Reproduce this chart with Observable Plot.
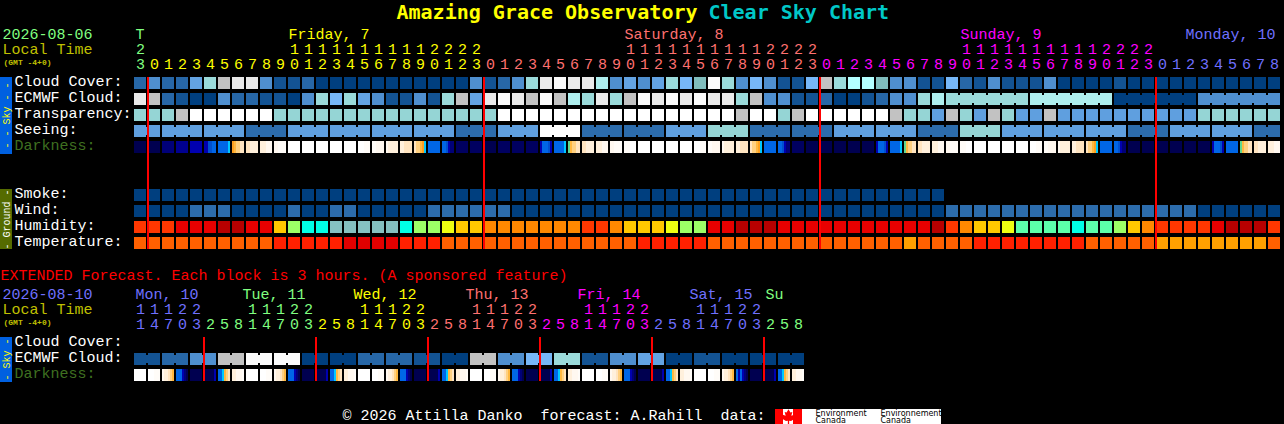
<!DOCTYPE html>
<html><head><meta charset="utf-8">
<script src="https://cdn.jsdelivr.net/npm/d3@7"></script>
<script src="https://cdn.jsdelivr.net/npm/@observablehq/plot@0.6"></script>
<style>html,body{margin:0;padding:0;background:#000;overflow:hidden}svg{display:block}</style>
</head><body><div id="chart"></div>
<script>
// ---------- palettes ----------
const cloudPalette = ["#003F7F","#135393","#2767A7","#4F8FCF","#63A3E3","#77B7F7","#9ADADA","#AEEEEE","#C2C2C2","#EAEAEA","#FBFBFB","#80BDBD","#B4FFFF"];
const transPalette = ["#003F7F","#2C6CAC","#5F9FDF","#95D5D5","#C2C2C2","#FFFFFF"];
const humidityPalette = {R:"#FF3700",e:"#E80000",d:"#B80000",a:"#FFC800",g:"#9CFF66",c:"#00FFE6",t:"#85C1C1",o:"#FF8800",y:"#EEFF11",m:"#5CFFAA"};
const tempPalette = {o:"#FF6000",r:"#FF2000",d:"#E00000",a:"#FFA000"};
const darkPalette = {n:"#000050",N:"#000060",m:"#000078",l:"#000090",k:"#0000B0",b:"#0050D0",B:"#0066E6",c:"#00C8FF",g:"#60D890",o:"#FFA020",O:"#FFB840",y:"#FFD080",p:"#FFE4C0",q:"#FFF0DC",r:"#FFF8F0",s:"#FFFCF8",w:"#FFFFFF"};

// ---------- hourly forecast ----------
const cloudCover = [2,3,2,2,4,6,8,9,9,3,1,1,2,0,0,0,0,0,0,0,0,0,0,0,3,1,2,3,6,9,10,9,9,7,3,4,3,4,6,5,11,10,6,3,5,3,1,1,5,8,6,12,12,11,3,3,1,1,5,2,1,3,1,1,1,3,0,0,0,0,1,0,0,0,0,0,0,0,0,0,0,0];
const ecmwfCloud = [9,8,2,1,0,0,3,2,2,1,1,0,3,6,5,6,4,3,1,1,3,1,6,8,4,9,10,9,8,10,8,7,6,9,6,8,10,9,10,9,10,9,9,6,8,3,3,1,1,2,0,0,1,2,3,3,6,7,6,6,6,6,6,6,7,7,7,7,7,7,0,0,0,0,0,0,3,3,3,3,3,3];
const ecmwfLinkedFrom = 58, ecmwfBlockSize = 6;
const transparency = [3,3,3,4,5,5,5,5,5,5,3,3,3,3,3,3,3,3,3,3,3,3,3,3,3,3,5,5,5,5,5,5,5,5,5,5,5,5,5,5,5,5,5,4,5,5,3,4,5,5,5,5,5,5,4,3,3,2,4,3,2,4,3,2,2,4,2,2,2,2,2,2,2,2,2,2,3,3,3,3,3,3];
const seeingValues = [2,2,2,1,2,2,2,2,1,2,5,1,1,2,3,1,1,2,2,1,3,2,2,2,1,2,2,1];
const seeingSpans  = [2,3,3,3,3,3,3,3,3,3,3,3,3,3,3,3,3,3,3,3,3,3,3,3,3,3,3,2];
const darkness = ["nnnnnn","nnnnnn","mmmmmm","llllll","kkkkkk","kkbbBB","BBBBBc","oOyypp","ppqqqq","qqqrrr","rrssss","wwwwww","wwwwww","wwwwww","wwwwww","wwwwww","wwwsss","ssrrrr","rqqqqq","qqpppp","pyyOoc","BBBBBB","BBbkmm","NNNNNN","NNNNNN","nnnnnn","NNNNNN","NNNNNN",
"NNNNNN","kBBBbk","BBBBBc","gOyypp","ppqqqq","qqqrrr","rrssss","ssswww","wwwwww","wwwwww","wwwwww","wwwwww","wwwsss","ssrrrr","rqqqqq","qqpppp","pyyOoc","BBBBBB","BBbkmm","NNNNNN","nnnnnn","nnnnnn","nnnnnn","nnnnnn",
"nnnnnn","kBBBbk","BBBBBc","gOyypp","ppqqqq","qqqrrr","rrssss","ssswww","wwwwww","wwwwww","wwwwww","wwwwww","wwwsss","ssrrrr","rqqqqq","qqpppp","pyyOoc","BBBBBB","BBbkmm","nnnnnn","nnnnnn","nnnnnn","nnnnnn","nnnnnn","nnnnnn",
"kBBBbk","BBBBBB","gOyypp","ppqqqq","qqqrrr"];
const smokeCount = 58;
const wind = [0,0,0,0,1,1,1,0,0,0,0,1,0,0,1,1,0,0,0,0,0,1,1,1,1,1,1,0,0,0,0,0,0,0,0,0,0,0,0,0,0,0,0,0,0,0,0,0,0,0,0,0,0,0,0,0,0,0,1,1,1,1,1,1,1,1,1,1,1,1,1,1,1,1,1,1,0,0,0,0,0,0];
const humidity = ["R","R","R","e","e","e","d","d","e","e","a","g","c","c","t","t","t","t","t","c","g","g","y","a","a","o","o","o","o","o","o","o","R","R","o","a","a","a","y","g","g","e","e","d","d","d","e","e","e","e","e","e","e","e","e","e","e","d","R","o","a","a","y","m","m","m","m","c","m","m","g","a","o","R","R","R","R","e","d","d","d","R"];
const temperature = ["o","o","o","o","o","o","o","o","o","o","r","r","r","r","r","d","d","d","d","r","r","r","o","o","o","o","o","o","o","o","o","o","o","o","o","o","r","r","r","r","r","o","o","o","o","o","o","o","o","o","o","o","o","o","o","a","o","o","o","o","r","r","r","r","r","r","r","r","o","o","o","o","o","a","a","a","a","a","a","a","a","o"];

// ---------- three hour forecast ----------
const extEcmwfBlocks = [1,2,3,8,10,10,0,0,2,2,1,0,8,3,5,6,1,3,4,0,1,0,0,0];
const extDarkness = ["wwwwww","wwwsss","rqqpyO","BBBkmn","nnnnnn","nnnnnk","BBcOyp","qqrrrs",
"wwwwww","wwwsss","rqqpyO","BBBkmn","nnnnnn","nnnnnk","BBcOyp","qqrrrs",
"wwwwww","wwwsss","rqqpyO","BBBkmn","nnnnnn","nnnnnk","BBcOyp","qqrrrs",
"wwwwww","wwwsss","rqqpyO","BBBkmn","nnnnnn","nnnnnk","BBcOyp","qqrrrs",
"wwwwww","wwwsss","rqqpyO","BBBkmn","nnnnnn","nnnnnk","BBcOyp","qqrrrs",
"wwwwww","wwwsss","rqqpyO","BkBkmn","nnnnnn","nnnnnk","BBcOyp","qqrrrs"];

// ---------- axis text ----------
const hourUnits = "3 0 1 2 3 4 5 6 7 8 9 0 1 2 3 4 5 6 7 8 9 0 1 2 3 0 1 2 3 4 5 6 7 8 9 0 1 2 3 4 5 6 7 8 9 0 1 2 3 0 1 2 3 4 5 6 7 8 9 0 1 2 3 4 5 6 7 8 9 0 1 2 3 0 1 2 3 4 5 6 7 8".split(" ");
const hourTens  = ["2"," "," "," "," "," "," "," "," "," "," ","1","1","1","1","1","1","1","1","1","1","2","2","2","2"," "," "," "," "," "," "," "," "," "," ","1","1","1","1","1","1","1","1","1","1","2","2","2","2"," "," "," "," "," "," "," "," "," "," ","1","1","1","1","1","1","1","1","1","1","2","2","2","2"];
const extUnits = "1 4 7 0 3 2 5 8 1 4 7 0 3 2 5 8 1 4 7 0 3 2 5 8 1 4 7 0 3 2 5 8 1 4 7 0 3 2 5 8 1 4 7 0 3 2 5 8".split(" ");
const extTens  = ["1","1","1","2","2"," "," "," ","1","1","1","2","2"," "," "," ","1","1","1","2","2"," "," "," ","1","1","1","2","2"," "," "," ","1","1","1","2","2"," "," "," ","1","1","1","2","2"];
const GREEN="#80FF80", YEL="#FFFF00", SAL="#FF7070", MAG="#FF00FF", BLU="#7070FF", OLV="#C0C000", DRK="#3F7020";
const dayNames = [["T",135,GREEN],["Friday, 7",288,YEL],["Saturday, 8",624,SAL],["Sunday, 9",960,MAG],["Monday, 10",1185,BLU]];
const extDayNames = [["Mon, 10",135,BLU],["Tue, 11",242,GREEN],["Wed, 12",353,YEL],["Thu, 13",465,SAL],["Fri, 14",577,MAG],["Sat, 15",689,BLU],["Su",765,GREEN]];
const dayColour = i => i < 1 ? GREEN : i < 25 ? YEL : i < 49 ? SAL : i < 73 ? MAG : BLU;
const extColour = i => i < 5 ? BLU : i < 13 ? GREEN : i < 21 ? YEL : i < 29 ? SAL : i < 37 ? MAG : i < 45 ? BLU : GREEN;
const nowCols = [1,25,49,73], extNowCols = [5,13,21,29,37,45];
const rowNames = ["Cloud Cover:","ECMWF Cloud:","Transparency:","Seeing:","Darkness:"];
const groundNames = ["Smoke:","Wind:","Humidity:","Temperature:"];

// ---------- layout: column/row units of the x and y scales ----------
const col = px => (px - 134) / 14, row = py => (py - 77) / 16;
const R_SMOKE=7, R_WIND=8, R_HUM=9, R_TEMP=10, R_EXT=16.25;

// ---------- build mark tables ----------
const cells=[], links=[], strips=[];
const put=(x,r,c)=>cells.push({x,r,c});
cloudCover.forEach((v,i)=>put(i,0,cloudPalette[v]));
ecmwfCloud.forEach((v,i)=>{put(i,1,cloudPalette[v]);
  if(i>=ecmwfLinkedFrom && (i-ecmwfLinkedFrom)%ecmwfBlockSize<ecmwfBlockSize-1) links.push({x:i,r:1,c:cloudPalette[v]});});
transparency.forEach((v,i)=>put(i,2,transPalette[v]));
let sc=0; seeingValues.forEach((v,b)=>{for(let k=0;k<seeingSpans[b];k++,sc++){put(sc,3,transPalette[v]);
  if(k<seeingSpans[b]-1) links.push({x:sc,r:3,c:transPalette[v]});}});
darkness.forEach((s,i)=>[...s].forEach((ch,k)=>strips.push({x:i,k,r:4,c:darkPalette[ch]})));
for(let i=0;i<smokeCount;i++) put(i,R_SMOKE,cloudPalette[0]);
wind.forEach((v,i)=>put(i,R_WIND,transPalette[v]));
humidity.forEach((ch,i)=>put(i,R_HUM,humidityPalette[ch]));
temperature.forEach((ch,i)=>put(i,R_TEMP,tempPalette[ch]));
extEcmwfBlocks.forEach((v,b)=>{put(b*2,R_EXT+1,cloudPalette[v]);put(b*2+1,R_EXT+1,cloudPalette[v]);links.push({x:b*2,r:R_EXT+1,c:cloudPalette[v]});});
extDarkness.forEach((s,i)=>[...s].forEach((ch,k)=>strips.push({x:i,k,r:R_EXT+2,c:darkPalette[ch]})));

const MONO='"Liberation Mono"', TITLE='"DejaVu Sans Mono"', LOGO='"DejaVu Sans"';
const texts=[];
const T=(t,px,py,c,size=15,weight="normal",anchor="start",family=MONO)=>texts.push({t,x:col(px),y:row(py),c,size,weight,anchor,family});
T("Amazing Grace Observatory",396,12,YEL,20,"bold","start",TITLE);
T("Clear Sky Chart",708,12,"#00C8C8",20,"bold","start",TITLE);
T("2026-08-06",2,34,GREEN); T("Local Time",2,49,OLV); T("(GMT -4+0)",3,62,OLV,8,"bold");
dayNames.forEach(d=>T(d[0],d[1],34,d[2]));
hourTens.forEach((t,i)=>{if(t!==" ")T(t,140+14*i,49,dayColour(i),15,"normal","middle");});
hourUnits.forEach((t,i)=>T(t,140+14*i,64,dayColour(i),15,"normal","middle"));
rowNames.forEach((t,i)=>T(t,14,81+16*i,i==4?DRK:"#FFF"));
groundNames.forEach((t,i)=>T(t,14,193+16*i,"#FFF"));
T("EXTENDED Forecast. Each block is 3 hours. (A sponsored feature)",0,275,"#FF0000");
T("2026-08-10",2,294,BLU); T("Local Time",2,309,OLV); T("(GMT -4+0)",3,322,OLV,8,"bold");
extDayNames.forEach(d=>T(d[0],d[1],294,d[2]));
extTens.forEach((t,i)=>{if(t!==" ")T(t,140+14*i,309,extColour(i),15,"normal","middle");});
extUnits.forEach((t,i)=>T(t,140+14*i,324,extColour(i),15,"normal","middle"));
["Cloud Cover:","ECMWF Cloud:","Darkness:"].forEach((t,i)=>T(t,14,341+16*i,i==2?DRK:"#FFF"));
T("\u00A9 2026 Attilla Danko  forecast: A.Rahill  data:",342,415,"#FFF");
T("Environment",815,412.5,"#000",8,"normal","start",LOGO);
T("Canada",815,420,"#000",8,"normal","start",LOGO);
T("Environnement",880,412.5,"#000",8,"normal","start",LOGO);
T("Canada",880,420,"#000",8,"normal","start",LOGO);

const panels=[{x1:0,x2:12,y1:77,y2:154,c:"#0060E0"},{x1:0,x2:12,y1:189,y2:249,c:"#556B00"},{x1:0,x2:12,y1:337,y2:382,c:"#0060E0"},
 {x1:775,x2:941,y1:409,y2:424,c:"#FFF"},{x1:775,x2:783,y1:409,y2:424,c:"#FF0000"},{x1:793,x2:802,y1:409,y2:424,c:"#FF0000"}];
const sideText=[{t:"- - Sky - -",y:115,c:"#FFFF00"},{t:"- Ground -",y:219,c:"#FFF"},{t:"- Sky -",y:359,c:"#FFFF00"}];
const leaf={draw(ctx,size){const s=Math.sqrt(size)/9;const p=[[0,-6],[1.5,-3.5],[3,-4],[2.2,-1],[5,-2],[4.5,0],[5.5,1],[2,3.2],[.5,3],[.5,6],[-.5,6],[-.5,3],[-2,3.2],[-5.5,1],[-4.5,0],[-5,-2],[-2.2,-1],[-3,-4],[-1.5,-3.5]];
 p.forEach(([x,y],i)=>i?ctx.lineTo(x*s,y*s):ctx.moveTo(x*s,y*s));ctx.closePath();}};

const chart = Plot.plot({
  width:1284,height:424,margin:0,
  style:{background:"#000",display:"block"},
  x:{domain:[0,82],range:[134,1282],axis:null},
  y:{domain:[0,16],range:[77,333],axis:null},
  color:{type:"identity"},
  marks:[
    Plot.rect(panels,{x1:d=>col(d.x1),x2:d=>col(d.x2),y1:d=>row(d.y1),y2:d=>row(d.y2),fill:"c",shapeRendering:"crispEdges"}),
    Plot.dot([{x:col(788),y:row(416.5)}],{x:"x",y:"y",r:6.5,symbol:leaf,fill:"#FF0000",stroke:"none"}),
    Plot.rect(cells,{x1:"x",x2:d=>d.x+1,y1:"r",y2:d=>d.r+0.75,insetRight:2,fill:"c",shapeRendering:"crispEdges"}),
    Plot.rect(links,{x1:d=>d.x+12/14,x2:d=>d.x+1,y1:"r",y2:d=>d.r+0.75,insetTop:2,insetBottom:2,fill:"c",shapeRendering:"crispEdges"}),
    Plot.rect(strips,{x1:d=>d.x+d.k/7,x2:d=>d.x+(d.k+1)/7,y1:"r",y2:d=>d.r+0.75,fill:"c",shapeRendering:"crispEdges"}),
    Plot.rect(nowCols,{x1:d=>d-1/14,x2:d=>d+1/14,y1:0,y2:10.75,fill:"#FF0000",shapeRendering:"crispEdges"}),
    Plot.rect(extNowCols,{x1:d=>d-1/14,x2:d=>d+1/14,y1:R_EXT,y2:R_EXT+2.75,fill:"#FF0000",shapeRendering:"crispEdges"}),
    Plot.text(sideText,{text:"t",x:col(6),y:d=>row(d.y),fill:"c",rotate:-90,fontFamily:MONO,fontSize:10}),
    ...d3.groups(texts,d=>d.size+d.weight+d.anchor+d.family).map(([k,g])=>Plot.text(g,{text:"t",x:"x",y:"y",fill:"c",fontSize:g[0].size,fontWeight:g[0].weight,textAnchor:g[0].anchor,fontFamily:g[0].family}))
  ]
});
document.getElementById("chart").append(chart);
</script></body></html>
